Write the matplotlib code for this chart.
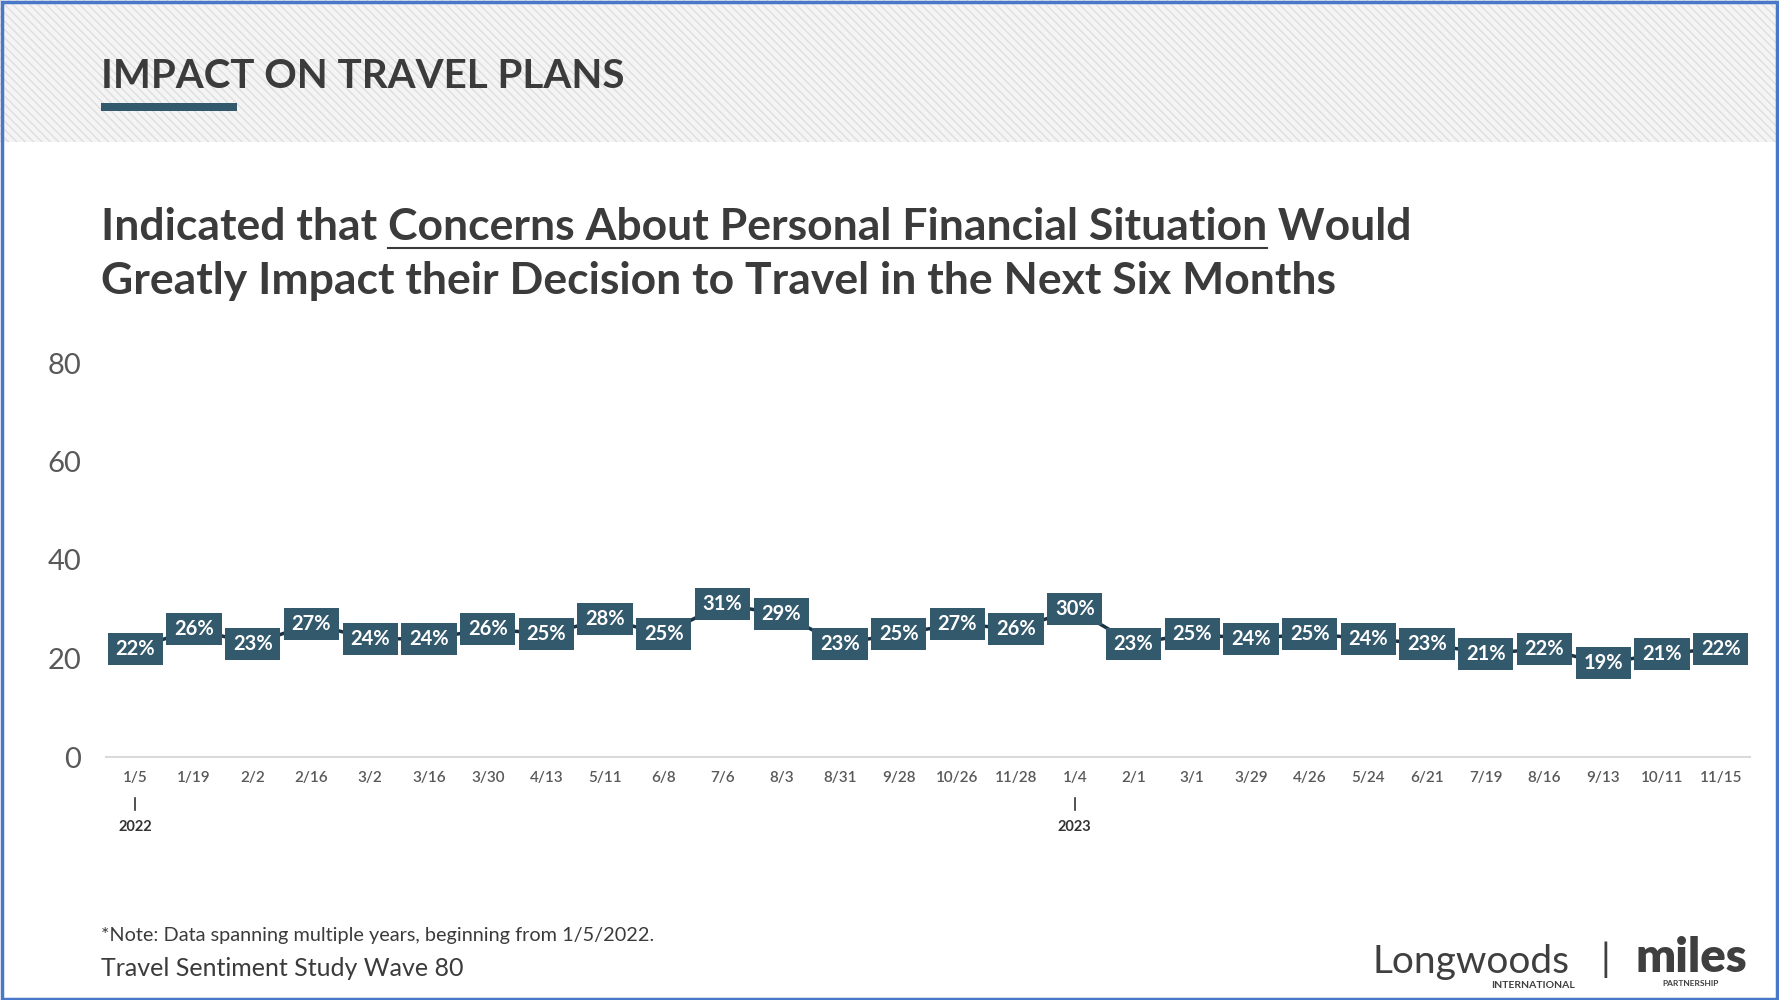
import matplotlib.pyplot as plt
from matplotlib.patches import Rectangle

# Survey waves (2022 -> 2023) and share who said finances would greatly impact travel
wave_dates = ['1/5', '1/19', '2/2', '2/16', '3/2', '3/16', '3/30', '4/13', '5/11', '6/8',
              '7/6', '8/3', '8/31', '9/28', '10/26', '11/28', '1/4', '2/1', '3/1', '3/29',
              '4/26', '5/24', '6/21', '7/19', '8/16', '9/13', '10/11', '11/15']
pct = [22, 26, 23, 27, 24, 24, 26, 25, 28, 25, 31, 29, 23, 25, 27, 26, 30, 23, 25, 24,
       25, 24, 23, 21, 22, 19, 21, 22]
year_marks = {0: '2022', 16: '2023'}
y_ticks = [0, 20, 40, 60, 80]

BOX = '#33596c'
LINE = '#1c3346'
TXT = '#3b3b3b'
GRAY = '#595959'
W, H = 1779, 1000

plt.rcParams['font.family'] = ['Lato', 'DejaVu Sans']

fig = plt.figure(figsize=(W / 100, H / 100), dpi=100)

# header band with diagonal texture
fig.patches.append(Rectangle((0, 1 - 142 / H), 1, 142 / H, transform=fig.transFigure,
                             facecolor='#f4f4f4', edgecolor='#dedede', hatch='\\\\\\\\',
                             linewidth=0, zorder=0))
fig.text(101 / W, 1 - 76 / H, 'IMPACT ON TRAVEL PLANS', fontsize=29, color=TXT,
         fontweight='bold', va='center', ha='left')
fig.patches.append(Rectangle((101 / W, 1 - 111 / H), 136 / W, 8 / H, transform=fig.transFigure,
                             facecolor=BOX, edgecolor='none', zorder=2))

# headline, with the underlined phrase
fig.canvas.draw()
r = fig.canvas.get_renderer()
fs = 32
y1 = 1 - 240 / H
t1 = fig.text(101 / W, y1, 'Indicated that ', fontsize=fs, fontweight='bold', color=TXT,
              va='baseline')
bb = t1.get_window_extent(r)
t2 = fig.text(bb.x1 / W, y1, 'Concerns About Personal Financial Situation', fontsize=fs,
              fontweight='bold', color=TXT, va='baseline')
bb2 = t2.get_window_extent(r)
fig.text(bb2.x1 / W, y1, ' Would', fontsize=fs, fontweight='bold', color=TXT, va='baseline')
fig.lines.append(plt.Line2D([bb2.x0 / W, bb2.x1 / W], [y1 - 8 / H, y1 - 8 / H],
                            transform=fig.transFigure, color=TXT, lw=1.5))
fig.text(101 / W, 1 - 294 / H, 'Greatly Impact their Decision to Travel in the Next Six Months',
         fontsize=fs, fontweight='bold', color=TXT, va='baseline')

# chart
ax = fig.add_axes([106 / W, 243 / H, 1644 / W, 394 / H])
x = list(range(len(pct)))
ax.plot(x, pct, color=LINE, lw=2.5, zorder=2)
bw, bh = 0.94, 6.5
for xi, v in zip(x, pct):
    ax.add_patch(Rectangle((xi - bw / 2, v - bh / 2), bw, bh, facecolor=BOX,
                           edgecolor='none', zorder=3))
    ax.text(xi, v, f'{v}%', color='white', fontsize=14.5, fontweight='bold',
            ha='center', va='center', zorder=4)

ax.set_xlim(-0.5, 27.5)
ax.set_ylim(0, 80)
ax.set_yticks(y_ticks)
ax.set_yticklabels([str(t) for t in y_ticks], fontsize=21, color=GRAY)
ax.set_xticks(x)
ax.set_xticklabels(wave_dates, fontsize=11, color=GRAY, fontweight='semibold')
ax.tick_params(axis='y', length=0, pad=18)
ax.tick_params(axis='x', length=0, pad=10)
for s in ['top', 'right', 'left']:
    ax.spines[s].set_visible(False)
ax.spines['bottom'].set_color('#d9d9d9')
ax.spines['bottom'].set_linewidth(1.5)

for xi, yr in year_marks.items():
    ax.plot([xi, xi], [-0.105, -0.135], transform=ax.get_xaxis_transform(),
            color='#333333', lw=1.2, clip_on=False)
    ax.text(xi, -0.178, yr, transform=ax.get_xaxis_transform(), fontsize=10.5,
            fontweight='bold', color='#333333', ha='center', va='center')

# footer
fig.text(101 / W, 1 - 936 / H, '*Note: Data spanning multiple years, beginning from 1/5/2022.',
         fontsize=14.3, color=TXT, va='center')
fig.text(101 / W, 1 - 968 / H, 'Travel Sentiment Study Wave 80', fontsize=18, color=TXT,
         va='center')

# logos
fig.text(1373 / W, 1 - 962 / H, 'Longwoods', fontsize=28, color='#3f3f3f', va='center')
fig.text(1575 / W, 1 - 985 / H, 'INTERNATIONAL', fontsize=7.5, color='#3f3f3f', va='center',
         ha='right', fontweight='bold')
fig.text(1605 / W, 1 - 960 / H, '|', fontsize=28, color='#3f3f3f', va='center', ha='center')
fig.text(1691 / W, 1 - 958 / H, 'miles', fontsize=34, color='#3f3f3f', va='center',
         ha='center', fontweight='heavy')
fig.text(1691 / W, 1 - 983 / H, 'PARTNERSHIP', fontsize=6, color='#3f3f3f', va='center',
         ha='center', fontweight='bold')

# outer frame
fig.patches.append(Rectangle((0.001, 0.001), 0.998, 0.997, transform=fig.transFigure,
                             facecolor='none', edgecolor='#4a78c8', lw=2.5, zorder=10))

fig.savefig('out.png', dpi=100)
